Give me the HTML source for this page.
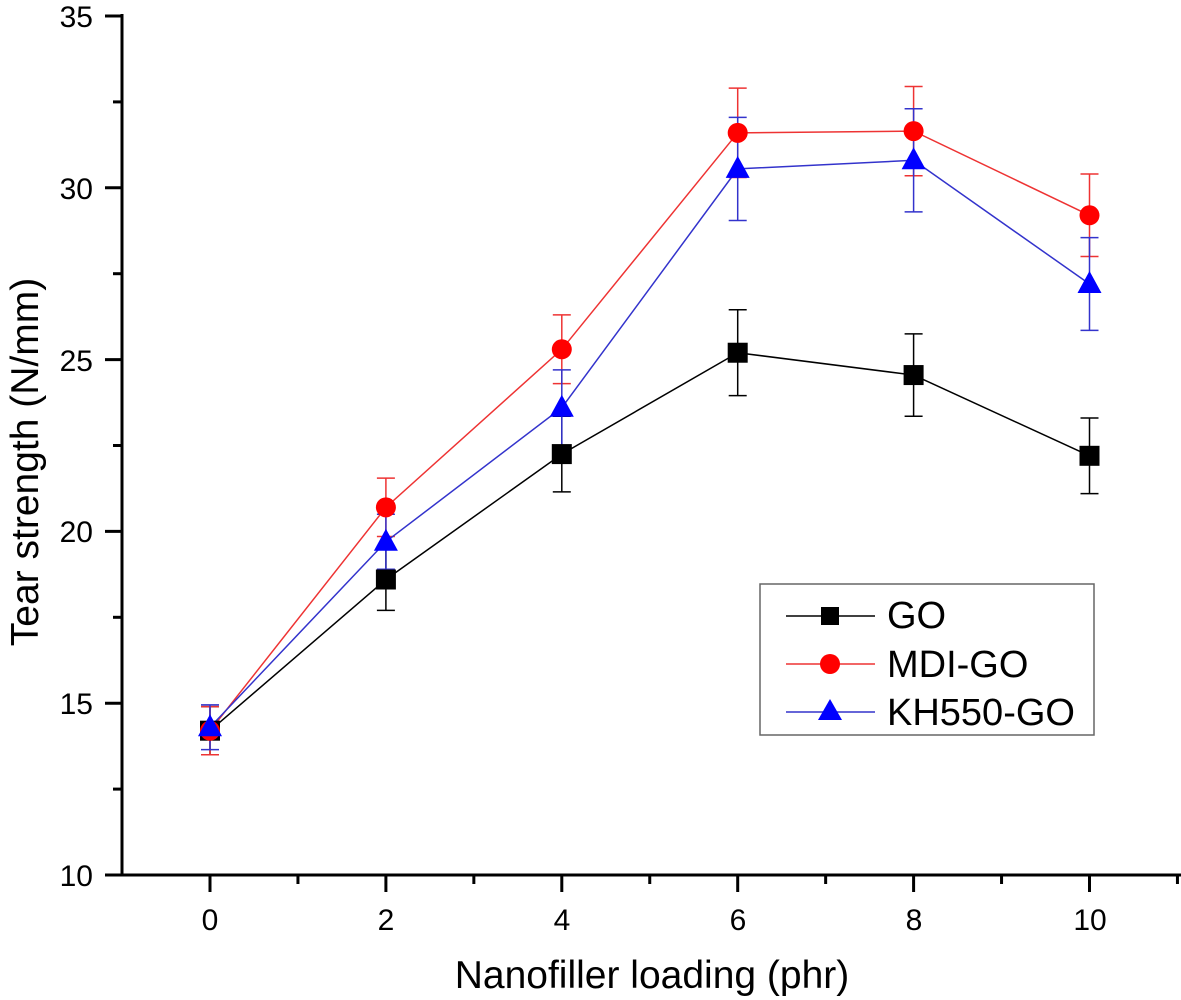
<!DOCTYPE html>
<html><head><style>body{margin:0;background:#fff}svg{display:block}text{font-family:"Liberation Sans",Arial,sans-serif}</style></head>
<body>
<svg id="s" width="1181" height="1000" viewBox="0 0 1181 1000" xmlns="http://www.w3.org/2000/svg">
<g stroke="#000" stroke-width="3" fill="none">
<line x1="122" y1="14" x2="122" y2="876"/>
<line x1="121" y1="875" x2="1181" y2="875"/>
</g>
<g id="ticks" stroke="#000" stroke-width="3"></g>
<g font-size="30" fill="#000" text-anchor="end">
<text x="93" y="886">10</text><text x="93" y="714">15</text><text x="93" y="542">20</text><text x="93" y="371">25</text><text x="93" y="199">30</text><text x="93" y="27">35</text>
</g>
<g font-size="30" fill="#000" text-anchor="middle">
<text x="210" y="930">0</text><text x="386" y="930">2</text><text x="562" y="930">4</text><text x="738" y="930">6</text><text x="914" y="930">8</text><text x="1090" y="930">10</text>
</g>
<text x="652" y="988" font-size="39" text-anchor="middle">Nanofiller loading (phr)</text>
<text transform="translate(38,462) rotate(-90)" font-size="39" text-anchor="middle">Tear strength (N/mm)</text>
<g id="data"></g>
<rect x="760" y="584" width="334" height="151" fill="#fff" stroke="#666" stroke-width="1.5"/>
<line x1="786" y1="616" x2="875" y2="616" stroke="#000" stroke-width="1.5"/>
<rect x="821" y="607" width="18" height="18" fill="#000"/>
<text x="887" y="628" font-size="38">GO</text>
<line x1="786" y1="664" x2="875" y2="664" stroke="#e33" stroke-width="1.5"/>
<circle cx="830" cy="664" r="10" fill="#f00"/>
<text x="887" y="677" font-size="38">MDI-GO</text>
<line x1="786" y1="712" x2="875" y2="712" stroke="#33c" stroke-width="1.5"/>
<polygon points="830,699 842,720 818,720" fill="#00f"/>
<text x="887" y="725" font-size="38">KH550-GO</text>
</svg>
<script>
var NS="http://www.w3.org/2000/svg";
function X(v){return 210+v*87.95}
function Y(v){return 875-(v-10)*34.36}
function el(p,t,a){var e=document.createElementNS(NS,t);for(var k in a)e.setAttribute(k,a[k]);p.appendChild(e);return e}
var tk=document.getElementById("ticks");
for(var v=10;v<=35;v+=2.5){var y=Y(v);el(tk,"line",{x1:v%5==0?105:113,x2:122,y1:y,y2:y})}
for(var v=-1;v<=11;v++){var x=X(v);if(x<125)continue;el(tk,"line",{x1:x,x2:x,y1:875,y2:v%2==0?892:884})}
var d=document.getElementById("data");
var S=[
{c:"#000",lc:"#000",m:"s",y:[14.2,18.6,22.25,25.2,24.55,22.2],e:[0.7,0.9,1.1,1.25,1.2,1.1]},
{c:"#f00",lc:"#e33",m:"c",y:[14.2,20.7,25.3,31.6,31.65,29.2],e:[0.7,0.85,1.0,1.3,1.3,1.2]},
{c:"#00f",lc:"#33c",m:"t",y:[14.3,19.7,23.6,30.55,30.8,27.2],e:[0.65,0.8,1.1,1.5,1.5,1.35]}];
S.forEach(function(s){
 var pts=s.y.map(function(v,i){return X(2*i)+","+Y(v)}).join(" ");
 el(d,"polyline",{points:pts,fill:"none",stroke:s.lc,"stroke-width":1.5});
 s.y.forEach(function(v,i){var x=X(2*i);
  el(d,"line",{x1:x,x2:x,y1:Y(v-s.e[i]),y2:Y(v+s.e[i]),stroke:s.lc,"stroke-width":1.5});
  [v-s.e[i],v+s.e[i]].forEach(function(w){el(d,"line",{x1:x-9,x2:x+9,y1:Y(w),y2:Y(w),stroke:s.lc,"stroke-width":1.5})});
 });
});
S.forEach(function(s){s.y.forEach(function(v,i){var x=X(2*i),y=Y(v);
 if(s.m=="s")el(d,"rect",{x:x-10,y:y-10,width:20,height:20,fill:s.c});
 else if(s.m=="c")el(d,"circle",{cx:x,cy:y,r:10,fill:s.c});
 else el(d,"polygon",{points:(x)+","+(y-13)+" "+(x+12)+","+(y+9)+" "+(x-12)+","+(y+9),fill:s.c});
})});
</script>
</body></html>
